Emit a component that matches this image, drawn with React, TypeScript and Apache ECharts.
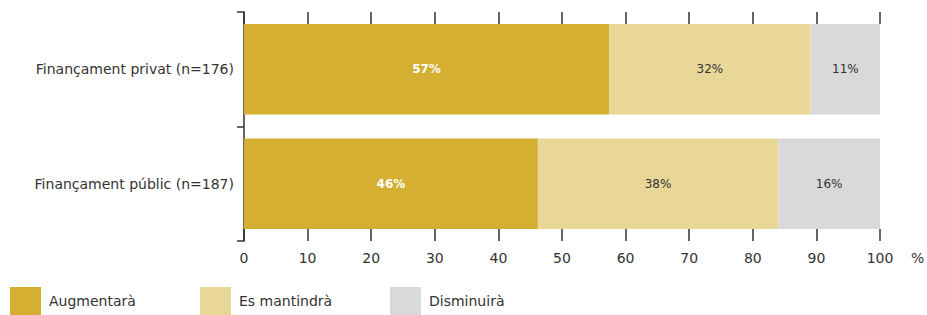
import React, { useEffect, useRef } from "react";
import * as echarts from "echarts";

const categories = ["Finançament privat (n=176)", "Finançament públic (n=187)"];
const seriesNames = ["Augmentarà", "Es mantindrà", "Disminuirà"];
const augmentara = [57.4, 46.2];
const esMantindra = [31.7, 37.8];
const disminuira = [10.9, 16.0];
const colors = ["#D4AF32", "#E9D798", "#D9D9DA"];
const labelColors = ["#FFFFFF", "#333333", "#333333"];

export default function App() {
  const ref = useRef<HTMLDivElement>(null);
  useEffect(() => {
    document.body.style.margin = "0";
    if (!ref.current) return;
    const chart = echarts.init(ref.current, null, { renderer: "svg" });
    const font = "DejaVu Sans";
    const values = [augmentara, esMantindra, disminuira];
    const legendLefts = [10, 200, 390];
    chart.setOption({
      animation: false,
      textStyle: { fontFamily: font },
      grid: { left: 244, right: 47, top: 12, bottom: 74 },
      legend: seriesNames.map((n, i) => ({
        data: [n],
        left: legendLefts[i],
        top: 287,
        itemWidth: 31,
        itemHeight: 28,
        icon: "rect",
        itemGap: 0,
        padding: 0,
        textStyle: { fontFamily: font, fontSize: 14, color: "#333", padding: [0, 0, 0, 3] },
      })),
      xAxis: [
        {
          type: "value",
          min: 0,
          max: 100,
          interval: 10,
          position: "bottom",
          axisLine: { show: false },
          axisTick: { show: true, inside: true, length: 12, lineStyle: { color: "#333", width: 1.5 } },
          axisLabel: { fontSize: 14, color: "#333", margin: 10, fontFamily: font },
          splitLine: { show: false },
        },
        {
          type: "value",
          min: 0,
          max: 100,
          interval: 10,
          position: "top",
          axisLine: { show: false },
          axisTick: { show: true, inside: true, length: 12, lineStyle: { color: "#333", width: 1.5 } },
          axisLabel: { show: false },
          splitLine: { show: false },
        },
      ],
      yAxis: {
        type: "category",
        data: categories,
        inverse: true,
        axisLine: { show: true, lineStyle: { color: "#333", width: 1.5 } },
        axisTick: { show: true, length: 7, lineStyle: { color: "#333", width: 1.5 } },
        axisLabel: { fontSize: 14, color: "#333", margin: 10, fontFamily: font },
      },
      graphic: [
        {
          type: "text",
          left: 911,
          top: 251,
          style: { text: "%", fontSize: 14, fill: "#333", fontFamily: font },
        },
      ],
      series: seriesNames.map((n, i) => ({
        name: n,
        type: "bar",
        stack: "total",
        xAxisIndex: 0,
        barWidth: "79%",
        itemStyle: { color: colors[i] },
        label: {
          show: true,
          position: "inside",
          formatter: (p: any) => `${Math.round(p.value)}%`,
          color: labelColors[i],
          fontSize: 12,
          fontWeight: i === 0 ? "bold" : "normal",
          fontFamily: font,
        },
        data: values[i],
      })),
    });
    return () => chart.dispose();
  }, []);
  return <div ref={ref} style={{ width: 927, height: 315 }} />;
}
